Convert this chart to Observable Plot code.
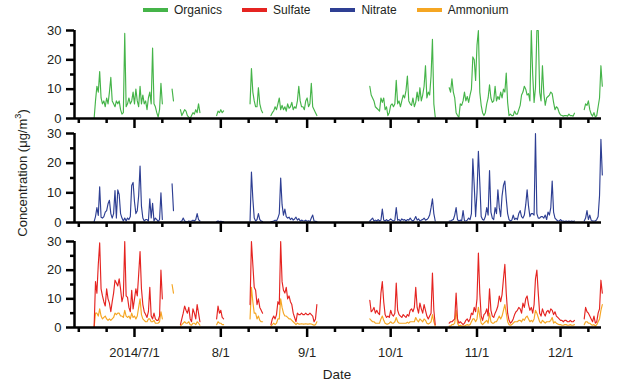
<!DOCTYPE html>
<html>
<head>
<meta charset="utf-8">
<script src="https://cdn.jsdelivr.net/npm/d3@7"></script>
<script src="https://cdn.jsdelivr.net/npm/@observablehq/plot@0.6"></script>
<style>
  body { margin: 0; background: #fff; font-family: "Liberation Sans", Arial, sans-serif; color: #231f20; }
  #wrap { position: relative; width: 618px; height: 387px; overflow: hidden; background: #fff; }
  #legend { position: absolute; top: 3px; left: 143px; display: flex; align-items: center; font-size: 12px; line-height: 14px; }
  .item { display: flex; align-items: center; margin-right: 20px; }
  .sw { width: 25px; height: 4px; margin-right: 6px; }
  #ylab { position: absolute; left: 22px; top: 173px; transform: translate(-50%, -50%) rotate(-90deg); white-space: nowrap; font-size: 13px; }
  #ylab sup { font-size: 0.7em; line-height: 0; }
  #xlab { position: absolute; left: 337px; top: 368px; transform: translateX(-50%); font-size: 13.5px; line-height: 14px; }
  svg { position: absolute; left: 0; }
</style>
</head>
<body>
<div id="wrap">
  <div id="legend"></div>
  <div id="ylab">Concentration (μg/m<sup>3</sup>)</div>
  <div id="xlab">Date</div>
</div>
<script>
// ---- data: 12-hourly values, one sub-array per continuous measurement period ----
const segStarts = ["2014-06-16T12:00", "2014-07-14T12:00", "2014-07-17T12:00", "2014-07-30T12:00",
  "2014-08-11T12:00", "2014-08-19T00:00", "2014-09-23T12:00", "2014-10-22T00:00", "2014-12-09T12:00"];

const seriesNames = ["Organics", "Sulfate", "Nitrate", "Ammonium"];
const seriesColors = ["#45b449", "#e52421", "#2e3f93", "#f5a623"];

const organics = [
  [0,6,11,9,16,7,5,6,4,7, 5,9,14,6,5,4,6,5,6,3, 1.5,2,29,4,5,7,5,6,9,5, 10,6,4,11,5,8,5,6,3,7, 9,5,24,5,4,2,0.5,3,12,5],
  [10,6],
  [3,1,2,3,2.5,1,0.5,0,1,2,1.5,3,2,5,2],
  [1,2.5,2,3,2,2.6],
  [5,17,9,6,4,4,10.5,5,3,2],
  [1,2,2.6,4,3,5,7,3,4.5,3, 4,2.5,5,3.5,4,5.5,3,4,3.5,6, 11,6,4,4,3,6,7,4,5,12, 4,3,2,1],
  [11,8,7,6,4,3.5,3,2.5,7,5.5, 7,3,4,1,2,4.5,5,4,5,13, 5,6,4,6,8,7,9.5,14.5,6,5, 4.5,7,4,5.5,9,6,10.5,6,8,11, 18,7,9,8,14.5,27,5,0.5],
  [10.5,9,13.5,9,7,2,1,0.5,5,4.5, 6,9,6,7.5,5.5,8,10,21,20,13, 25,30,9,4.5,2,1,2,5,7,11.5, 7,5.5,6,11,6,7.5,6.5,9,7,10,
   9,15.5,5.5,1,1.5,1,1,2.5,1.5,1.5, 3,4.5,8,9,11,10,8,8.5,6,30, 15,5.5,10.5,30,30,9,6,18,8.5,4.5, 7,7.5,8,9,8.5,5.5,3,4,3.5,2,
   1.2,1,0.8,1,1,0.8,1.5,1,1,0.8, 1.8],
  [3,5,4.5,6,3,1.5,0.8,2,0.5,1,4,7,18,11]
];

const nitrate = [
  [0.3,2,5,2.4,12,1.8,1.5,2,3.5,4, 6.3,7.5,3,1.5,3,10.8,1.5,11,9.5,3, 1.5,0.5,1.5,0.5,1.5,1,2,12.5,13.5,7, 3,4,9,19,5.5,1.5,0.5,1,1,0.5, 8,1.5,6.5,0.5,1.5,1,0.3,1,10,1],
  [13,4],
  [0.3,0.5,1.5,0.5,0.3,0.2,0.5,0.3,0.5,0.8,0.5,1,3,1,0.5],
  [0.3,0.5,0.3,0.4,0.3,0.2],
  [0.5,17,8,1.5,0.5,1,3,1,0.5,0.3],
  [0.3,0.3,0.5,0.8,0.5,1.5,3,15,6,2.5, 4.5,2,1.5,1.8,1,1.5,0.8,1.2,1.8,0.8, 1.3,0.5,0.8,0.6,0.5,0.8,0.4,0.6,0.3,1.5, 2.5,0.5,0.4,0.3],
  [0.5,1,1.5,0.5,0.8,0.5,1,0.5,0.8,4.5, 0.8,0.5,1,0.5,0.8,1.2,0.8,0.5,0.8,5, 0.8,1,0.5,1.2,0.8,1,0.5,1,0.8,1.5, 0.8,0.5,1,2,0.8,1.2,0.5,0.8,1,1.5, 0.8,1,1.5,2.5,5,8,3,0.5],
  [0.5,0.5,0.8,1,2.5,5,1,0.5,0.8,0.6, 4,0.6,0.5,0.8,1.5,1,3,21.5,12.5,2, 10,24,13.5,2,1,0.8,2,5,2.5,17.5, 3.5,1.5,1,5,3,11,5,2,9,12.5,
   14,8,3,1,0.5,0.8,2.5,1,1.5,1, 3,4,2,1.5,2.5,6,11,5.5,2,3, 3,2.5,30,3,1.5,1.5,2,2,1.5,2.5, 1,3.5,2.5,5,14,3.5,1.5,1,0.5,0.5,
   1,0.5,0.5,0.3,0.5,0.3,0.5,0.3,0.5,0.3, 0.5],
  [0.5,1.5,4,1,2.5,0.8,0.5,0.5,0.5,1,2,9,28,16]
];

const sulfate = [
  [0,16,12,22,29.5,13.5,11,9,7.5,13.5, 10,8.5,5.5,9,12,16.5,15.5,14.5,17,13.5, 9,11,30,11,10.5,7,5.5,13,6.5,10, 13.5,11,18.5,26.5,13.5,8,5.5,4.5,3.5,5.5, 14,4,3,5,3,2.5,2.5,4,20,10],
  [null,null],
  [1,3,5,7.5,6,5,7,3,2,6.5,5,3,8,5,2],
  [3,7.5,5,6,3.5,3],
  [8,30,22,14,13,8,10,7,6,5],
  [1,3,4,3,4.5,9,8,30,16,13, 12,14,10,11,9,8,5,3.5,2,5, 4.5,4.5,5,4.5,4.5,5,4.5,4.5,5,4.5, 4,2,3,8],
  [9.5,5.5,6,7,5,6,5,4.5,12,16, 9,4.5,3.5,4,3.5,6,4.5,4,5,15.5, 6,4.5,4,3.5,4.5,4,3.5,4.5,4,6, 6.5,5.5,7,14,7,5,8.5,6.5,5,8, 6,4,3,4,5,19,6,1],
  [1.5,2,2,2.5,3,12,3,1.5,2,1.5, 1,1.5,2.5,3,2,3,5,4.5,7,5.5, 10,26,12,4,2.5,4.5,5,6.5,4,13.5, 6,4,3.5,5,6,7.5,11,9,11.5,17,
   22,12,5,2.5,1.5,2,3,4.5,5.5,6, 7,6.5,5,8.5,7,10,11,8,6,7, 5,8,17,20,12,5,4,6.5,5,4, 5.5,6,5,6.5,6,4.5,5.5,4,3.5,3,
   2.5,2.5,2,2.5,2.5,2,2,2.5,2,2, 2.5],
  [3,7,5.5,5,4,3,2,4,1.5,2,5,6.5,16.5,12]
];

const ammonium = [
  [0,5,5,4,6.5,4,3,3.5,4,3, 2.5,3,2.5,3,3.5,5,4.5,5,5,4, 4,3.5,6,4,3.5,4,3,5,3.5,4, 3,4,7,10,4.5,3,2.5,2,2,3, 3,2,2,2.5,1.5,1.5,1.5,2,5.5,3],
  [15,12],
  [0.5,1,1.5,2,1.5,1.5,2,1,0.8,1.5,1.5,1,2,1.5,0.8],
  [1,2,1.5,1.5,1,1],
  [3,14,9,5,5,3,4,2.5,2,2],
  [0.5,1,1.5,1,1.5,3,3,10,7,5, 4,4,3.5,3,3,2.5,2,1.5,1,1.5, 1.2,1.2,1.3,1.2,1.2,1.3,1.2,1.2,1.3,1.2, 1,0.8,1,2],
  [3,2.5,2,2,1.5,1.5,1.5,1.5,3,4, 2.5,1.5,1.2,1.2,1.5,2,1.5,1.5,2,3.5, 2,1.5,1.5,1.5,1.5,1.5,1.5,1.8,1.5,2, 2,2,2,3.5,2.5,2,3,2.5,2,3, 2.5,1.5,1.2,1.5,2,4.5,2,0.5],
  [0.5,0.5,1,1,1.5,6,1.5,0.5,0.8,0.5, 0.5,0.5,0.8,1,0.8,1,2,3,3,2, 3,7,4,1.5,1,1.5,2,2.5,1.5,5, 2,1.5,1.5,2,2,3,4,3,4,6,
   8,5,2,1,0.8,1,1.5,2,2,2, 2.5,2.5,2,3,2.5,3.5,4,3,2,2.5, 2,3,6,5,3.5,2,1.5,2.5,2,1.5, 2,2,2,2.5,3.5,1.5,2,1.5,1.2,1,
   1,0.8,0.8,1,1,0.8,0.8,1,0.8,0.8, 1],
  [1,2,2,1.5,1.5,1,0.8,1,0.5,1,2,3,6,8]
];

const xStart = "2014-06-09T11:00", xEnd = "2014-12-15T17:00";
const monthTicks = ["2014-07-01", "2014-08-01", "2014-09-01", "2014-10-01", "2014-11-01", "2014-12-01"];
const tickLabels = ["2014/7/1", "8/1", "9/1", "10/1", "11/1", "12/1"];
const yMajor = [0, 10, 20, 30];
const yMinor = [5, 15, 25];

// ---- build ----
const parseT = d3.timeParse("%Y-%m-%dT%H:%M");
const parseD = d3.timeParse("%Y-%m-%d");
const xDomain = [parseT(xStart), parseT(xEnd)];
const months = monthTicks.map(parseD);
const labelOf = new Map(months.map((d, i) => [+d, tickLabels[i]]));
const minorTicks = d3.timeDay.range(xDomain[0], xDomain[1]).filter(d => d.getDate() === 11 || d.getDate() === 21);

function build(series) {
  const rows = [];
  series.forEach((seg, s) => {
    const t0 = parseT(segStarts[s]);
    seg.forEach((v, j) => rows.push({date: new Date(+t0 + j * 12 * 3600e3), value: v, seg: s}));
  });
  return rows;
}

const colorOf = Object.fromEntries(seriesNames.map((n, i) => [n, seriesColors[i]]));
const wrap = document.getElementById("wrap");

// legend
const legend = document.getElementById("legend");
seriesNames.forEach(n => {
  const it = document.createElement("div");
  it.className = "item";
  it.innerHTML = `<span class="sw" style="background:${colorOf[n]}"></span><span>${n}</span>`;
  legend.appendChild(it);
});

const black = "#000";
function panel({top, mt, mb, inner, lines, showLabels}) {
  const svg = Plot.plot({
    width: 618,
    height: mt + inner + mb,
    marginLeft: 74, marginRight: 17, marginTop: mt, marginBottom: mb,
    x: {type: "time", domain: xDomain, label: null},
    y: {domain: [0, 30], label: null},
    style: {background: "none", fontFamily: "'Liberation Sans', Arial, sans-serif", fontSize: "13px", color: "#231f20", overflow: "visible"},
    marks: [
      ...lines.map(([name, series]) =>
        Plot.line(build(series), {x: "date", y: "value", z: "seg", stroke: colorOf[name], strokeWidth: 1.15})),
      Plot.axisY(yMinor, {tickSize: 4, strokeWidth: 2.5, stroke: black, fill: "none", tickFormat: () => "", label: null}),
      Plot.axisY(yMajor, {tickSize: 8, tickPadding: 5, strokeWidth: 2.5, stroke: black, label: null}),
      Plot.axisX(minorTicks, {tickSize: 5, strokeWidth: 2.5, stroke: black, fill: "none", tickFormat: () => "", label: null}),
      showLabels
        ? Plot.axisX(months, {tickSize: 10, tickPadding: 10, strokeWidth: 2.5, stroke: black, tickFormat: d => labelOf.get(+d), label: null})
        : Plot.axisX(months, {tickSize: 10, strokeWidth: 2.5, stroke: black, fill: "none", tickFormat: () => "", label: null}),
      Plot.ruleY([0], {stroke: black, strokeWidth: 2.5}),
      Plot.ruleX([xDomain[0]], {stroke: black, strokeWidth: 2.5})
    ]
  });
  svg.style.top = top + "px";
  wrap.appendChild(svg);
}

panel({top: 20, mt: 10, inner: 88, mb: 12, lines: [["Organics", organics]]});
panel({top: 125, mt: 8, inner: 89, mb: 12, lines: [["Nitrate", nitrate]]});
panel({top: 232, mt: 9, inner: 86, mb: 60, lines: [["Ammonium", ammonium], ["Sulfate", sulfate]], showLabels: true});
</script>
</body>
</html>
